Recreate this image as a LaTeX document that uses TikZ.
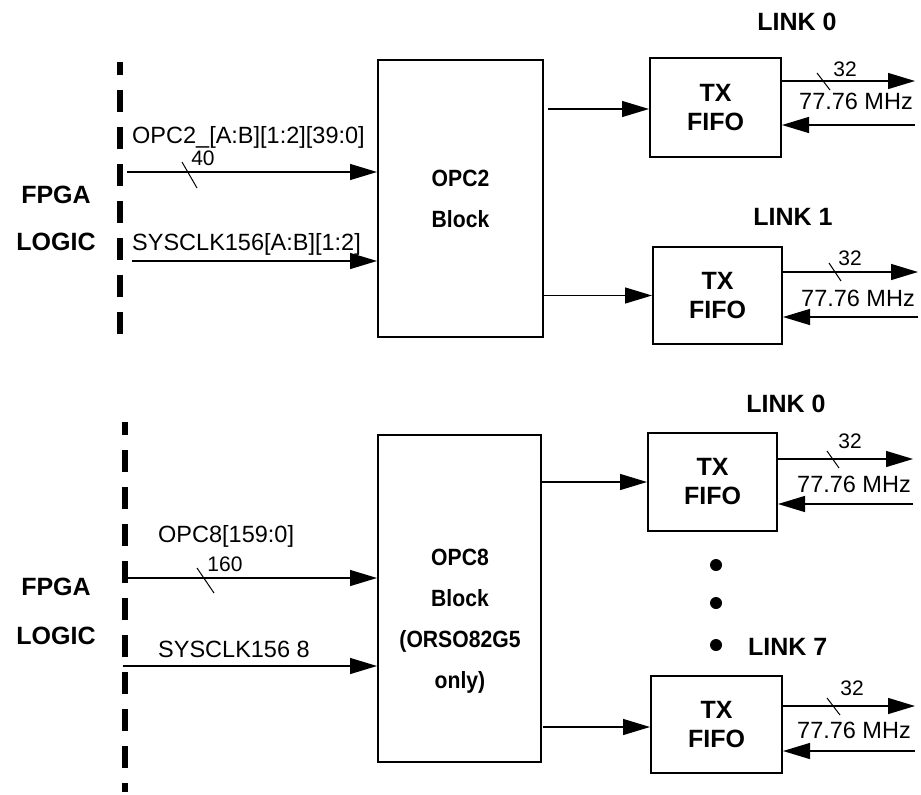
\documentclass[tikz,border=0pt]{standalone}
\usepackage{fontspec}
\setmainfont{Liberation Sans}
\newfontfamily\narrowbf[FakeStretch=0.9]{Liberation Sans Bold}
\usetikzlibrary{arrows.meta}
\begin{document}
\begin{tikzpicture}[x=1pt,y=-1pt,
  box/.style={draw,line width=2pt,inner sep=0pt},
  arr/.style={line width=1.3pt,-{Triangle[length=27pt,width=16pt]}},
  bus/.style={line width=1pt},
  boundary/.style={line width=5.5pt,dash pattern=on 22pt off 15pt,dash phase=9pt},
  sig/.style={font=\fontsize{23.5}{26}\selectfont,anchor=base west,inner sep=0pt},
  wid/.style={font=\fontsize{21}{24}\selectfont,anchor=base,inner sep=0pt},
  blab/.style={font=\fontsize{25}{28}\selectfont\bfseries,anchor=base,inner sep=0pt},
  fifo/.style={box,font=\fontsize{25}{29}\selectfont\bfseries,align=center},
  blk/.style={font=\fontsize{23.5}{41}\selectfont\narrowbf,align=center,inner sep=0pt},
  dot/.style={circle,fill,inner sep=0pt,minimum size=12pt},
]
\useasboundingbox (0,0) rectangle (921,795);

% ---------- upper diagram ----------
\draw[boundary] (120,62) -- (120,342);
\node[blab] (fpga1) at (56,203) {FPGA};
\node[blab] (logic1) at (56,250) {LOGIC};

\node[box,minimum width=165pt,minimum height=277pt,blk] (opc2) at (460.5,198.5) {OPC2\\Block};

\node[fifo,minimum width=131pt,minimum height=99pt] (f1) at (715.5,107.5) {TX\\FIFO};
\node[fifo,minimum width=129pt,minimum height=97pt] (f2) at (717.5,295.5) {TX\\FIFO};
\node[blab] (l0a) at (797,30) {LINK 0};
\node[blab] (l1) at (793,225) {LINK 1};

\node[sig] (opc2sig) at (132,143) {OPC2\_[A:B][1:2][39:0]};
\coordinate (s1) at (127,172);
\draw[arr] (s1) -- (opc2.west |- s1);
\draw[bus] (182,162) -- (197,188);
\node[wid] (w40) at (203,165) {40};

\node[sig] (clk2sig) at (132,250) {SYSCLK156[A:B][1:2]};
\coordinate (s2) at (132,261);
\draw[arr] (s2) -- (opc2.west |- s2);

\coordinate (i1) at (548,109);
\draw[arr] (i1) -- (f1.west |- i1);
\draw[arr] (opc2.east |- f2.west) -- (f2.west);

\coordinate (o1) at (915,81);
\coordinate (r1) at (915,125);
\draw[arr] (f1.east |- o1) -- (o1);
\draw[arr] (r1) -- (f1.east |- r1);
\draw[bus] (817,73) -- (830,90);
\node[wid] (w1) at (845,76) {32};
\node[sig,anchor=base] (m1) at (856,109) {77.76 MHz};

\coordinate (o2) at (918,272);
\coordinate (r2) at (918,317);
\draw[arr] (f2.east |- o2) -- (o2);
\draw[arr] (r2) -- (f2.east |- r2);
\draw[bus] (829,263) -- (841,281);
\node[wid] (w2) at (850,265) {32};
\node[sig,anchor=base] (m2) at (858,306) {77.76 MHz};

% ---------- lower diagram ----------
\draw[boundary] (125,422) -- (125,792);
\node[blab] (fpga2) at (56,595) {FPGA};
\node[blab] (logic2) at (56,644) {LOGIC};

\node[box,minimum width=163pt,minimum height=327pt] (opc8) at (459.5,598.5) {};
\node[blk] (opc8txt) at (460,621.5) {OPC8\\Block\\(ORSO82G5\\only)};

\node[fifo,minimum width=129pt,minimum height=98pt] (f3) at (712.5,482) {TX\\FIFO};
\node[fifo,minimum width=131pt,minimum height=97pt] (f4) at (716.5,724.5) {TX\\FIFO};
\node[blab] (l0b) at (786,412) {LINK 0};
\node[dot] (d1) at (716,565) {};
\node[dot] (d2) at (716,603) {};
\node[dot] (d3) at (716,645) {};
\node[blab,anchor=base west] (l7) at (748,655) {LINK 7};

\node[sig] (opc8sig) at (158,542) {OPC8[159:0]};
\coordinate (s3) at (125,578);
\draw[arr] (s3) -- (opc8.west |- s3);
\draw[bus] (197,568) -- (214,593);
\node[wid] (w160) at (225,571) {160};

\node[sig] (clk8sig) at (158,657) {SYSCLK156 8};
\coordinate (s4) at (123,666);
\draw[arr] (s4) -- (opc8.west |- s4);

\draw[arr] (opc8.east |- f3.west) -- (f3.west);
\coordinate (i4) at (543,727);
\draw[arr] (i4) -- (f4.west |- i4);

\coordinate (o3) at (913,459);
\coordinate (r3) at (913,504);
\draw[arr] (f3.east |- o3) -- (o3);
\draw[arr] (r3) -- (f3.east |- r3);
\draw[bus] (827,451) -- (839,468);
\node[wid] (w3) at (850,448) {32};
\node[sig,anchor=base] (m3) at (854,492) {77.76 MHz};

\coordinate (o4) at (915,706);
\coordinate (r4) at (915,751);
\draw[arr] (f4.east |- o4) -- (o4);
\draw[arr] (r4) -- (f4.east |- r4);
\draw[bus] (827,698) -- (840,715);
\node[wid] (w4) at (852,695) {32};
\node[sig,anchor=base] (m4) at (854,738) {77.76 MHz};
\end{tikzpicture}
\end{document}
